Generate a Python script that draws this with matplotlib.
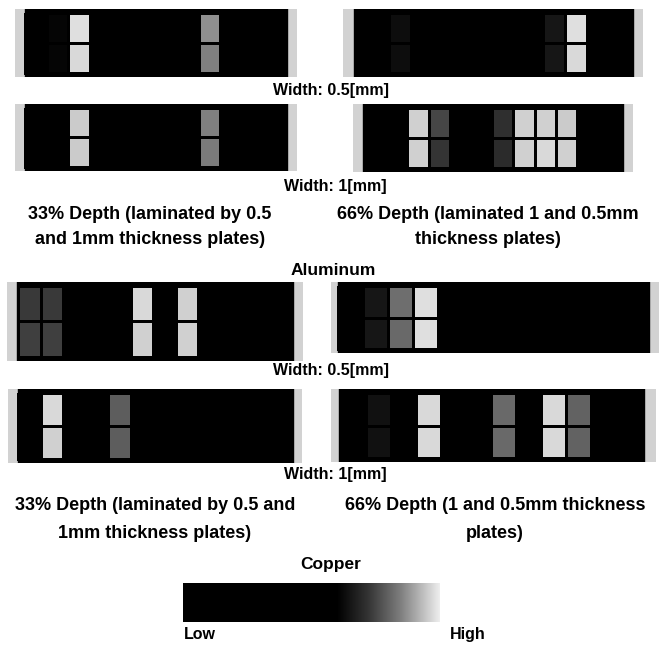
import matplotlib
matplotlib.use("Agg")
import matplotlib.pyplot as plt
import numpy as np
from matplotlib.colors import LinearSegmentedColormap
from matplotlib.patches import Rectangle
import matplotlib.cm as cm

W, H = 662, 650

# relative intensity per inspection cell, row 0 = upper row of the plate
al_33_w05 = [[0, 0.61, 0.98, 0, 0, 0, 0, 0, 0.87, 0, 0, 0],
             [0, 0.61, 0.97, 0, 0, 0, 0, 0, 0.85, 0, 0, 0]]
al_66_w05 = [[0, 0.63, 0, 0, 0, 0, 0, 0, 0.65, 0.98, 0, 0],
             [0, 0.63, 0, 0, 0, 0, 0, 0, 0.65, 0.97, 0, 0]]
al_33_w1 = [[0, 0, 0.95, 0, 0, 0, 0, 0, 0.85, 0, 0, 0],
            [0, 0, 0.95, 0, 0, 0, 0, 0, 0.84, 0, 0, 0]]
al_66_w1 = [[0, 0, 0.96, 0.75, 0, 0, 0.71, 0.96, 0.96, 0.95, 0, 0],
            [0, 0, 0.96, 0.72, 0, 0, 0.70, 0.96, 0.97, 0.96, 0, 0]]
cu_33_w05 = [[0.73, 0.73, 0, 0, 0, 0.97, 0, 0.96, 0, 0, 0, 0],
             [0.74, 0.74, 0, 0, 0, 0.96, 0, 0.96, 0, 0, 0, 0]]
cu_66_w05 = [[0, 0.65, 0.82, 0.98, 0, 0, 0, 0, 0, 0, 0, 0],
             [0, 0.65, 0.81, 0.98, 0, 0, 0, 0, 0, 0, 0, 0]]
cu_33_w1 = [[0, 0.97, 0, 0, 0.79, 0, 0, 0, 0, 0, 0, 0],
            [0, 0.96, 0, 0, 0.79, 0, 0, 0, 0, 0, 0, 0]]
cu_66_w1 = [[0, 0.64, 0, 0.97, 0, 0, 0.81, 0, 0.97, 0.80, 0, 0],
            [0, 0.64, 0, 0.97, 0, 0, 0.81, 0, 0.97, 0.80, 0, 0]]

# colour scale: black for most of the range, rising to light grey
cmap = LinearSegmentedColormap.from_list(
    "scan", [(0, "black"), (0.6, "black"), (0.72, (0.2,) * 3),
             (0.85, (0.5,) * 3), (1.0, (0.93,) * 3)])

plt.rcParams['font.family'] = ['Liberation Sans', 'DejaVu Sans']
fig = plt.figure(figsize=(W / 100, H / 100), dpi=100)


def draw_panel(values, grey_x, black_x, ys, start, cw):
    # all layout given in pixels, converted to cell units
    gx0, gx1 = grey_x
    y0, y1 = ys
    ax = fig.add_axes([gx0 / W, 1 - y1 / H, (gx1 - gx0) / W, (y1 - y0) / H])
    ax.set_facecolor("#d2d2d2")
    ax.set_xlim((gx0 - start) / cw, (gx1 - start) / cw)
    ax.set_ylim(2.12, -0.12)
    bx0 = (black_x[0] - start) / cw
    bx1 = (black_x[1] - start) / cw
    ax.add_patch(Rectangle((bx0, -0.2), bx1 - bx0, 2.4, color="black", zorder=1))
    vals = np.array(values)
    ax.pcolormesh(np.arange(vals.shape[1] + 1), np.arange(3), vals, cmap=cmap,
                  vmin=0, vmax=1, edgecolors="black", linewidth=2.0, zorder=2)
    ax.set_xticks([])
    ax.set_yticks([])
    for sp in ax.spines.values():
        sp.set_visible(False)
    return ax


draw_panel(al_33_w05, (15, 297), (25, 287), (9, 77), 25, 21.7)
draw_panel(al_66_w05, (343, 643), (354, 633), (9, 77), 367, 22)
draw_panel(al_33_w1, (15, 297), (25, 287), (104, 171), 25, 21.7)
draw_panel(al_66_w1, (353, 633), (363, 623), (104, 172), 365, 21.2)
draw_panel(cu_33_w05, (7, 303), (17, 293), (282, 361), 18, 22.5)
draw_panel(cu_66_w05, (331, 659), (338, 649), (282, 353), 338, 25)
draw_panel(cu_33_w1, (8, 302), (18, 293), (389, 463), 18, 22.5)
draw_panel(cu_66_w1, (331, 656), (339, 644), (389, 462), 341, 25)


def label(x, y, s, size, va="center"):
    fig.text(x / W, 1 - y / H, s, ha="center", va=va,
             fontsize=size, fontweight="bold")


label(331, 91, "Width: 0.5[mm]", 11.5)
label(335, 186, "Width: 1[mm]", 11.5)
label(150, 215, "33% Depth (laminated by 0.5", 13)
label(150, 240, "and 1mm thickness plates)", 13)
label(488, 215, "66% Depth (laminated 1 and 0.5mm", 13)
label(488, 240, "thickness plates)", 13)
label(333, 270, "Aluminum", 12.5)

label(331, 370, "Width: 0.5[mm]", 11.5)
label(335, 475, "Width: 1[mm]", 11.5)
label(155, 506, "33% Depth (laminated by 0.5 and", 13)
label(155, 533, "1mm thickness plates)", 13)
label(495, 506, "66% Depth (1 and 0.5mm thickness", 13)
label(495, 533, "plates)", 13)
label(331, 565, "Copper", 12.5)

# colour scale bar
cax = fig.add_axes([183 / W, 1 - 622 / H, (440 - 183) / W, 39 / H])
cb = fig.colorbar(cm.ScalarMappable(cmap=cmap), cax=cax, orientation="horizontal")
cb.set_ticks([])
cb.outline.set_visible(False)
label(200, 639, "Low", 11.5, va="baseline")
label(468, 639, "High", 11.5, va="baseline")

fig.savefig("out.png", dpi=100)
